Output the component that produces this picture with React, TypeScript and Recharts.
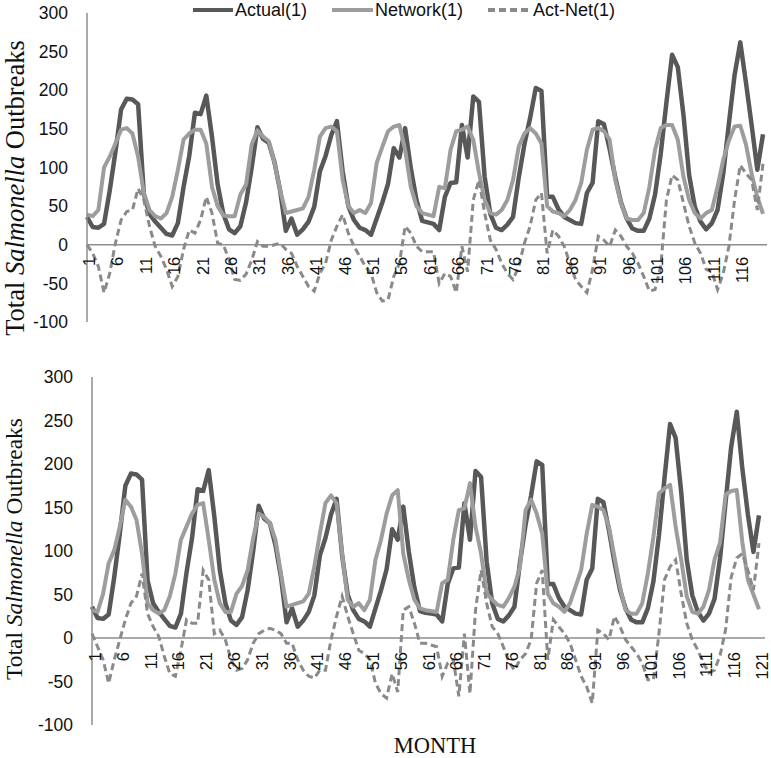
import { LineChart, Line, XAxis, YAxis, ReferenceLine, Legend } from "recharts";

// month categories: upper panel shows 1-120, lower panel 1-121
const months = Array.from({ length: 121 }, (_, i) => String(i + 1));
const yTicks = [-100, -50, 0, 50, 100, 150, 200, 250, 300];

// upper panel: Actual(1), Network(1), Act-Net(1), months 1-120
const actualTop = [
  36, 23, 22, 27, 70, 120, 175, 189, 188, 182,
  66, 40, 30, 22, 14, 12, 28, 75, 115, 171,
  169, 193, 140, 78, 40, 20, 15, 24, 55, 100,
  152, 137, 132, 107, 70, 18, 34, 13, 20, 30,
  49, 95, 115, 142, 160, 95, 50, 32, 22, 19,
  13, 34, 55, 79, 125, 113, 151, 99, 58, 31,
  29, 27, 19, 62, 80, 81, 155, 113, 192, 185,
  88, 40, 22, 19, 26, 36, 87, 130, 164, 203,
  199, 62, 62, 46, 36, 32, 28, 27, 67, 80,
  160, 156, 124, 87, 55, 34, 21, 18, 18, 34,
  65, 118, 184, 246, 230, 168, 90, 49, 30, 20,
  28, 45, 92, 157, 220, 262, 210, 155, 97, 143,
];
const networkTop = [
  39, 37, 45, 100, 114, 131, 149, 151, 144, 114,
  67, 45, 37, 34, 41, 62, 97, 136, 144, 149,
  149, 131, 75, 50, 38, 37, 37, 65, 78, 130,
  148, 140, 134, 106, 71, 41, 43, 45, 47, 62,
  97, 140, 151, 153, 147, 84, 50, 41, 45, 41,
  54, 106, 127, 147, 153, 155, 123, 75, 50, 41,
  39, 37, 75, 73, 123, 147, 149, 153, 136, 93,
  58, 41, 39, 45, 58, 84, 127, 144, 151, 144,
  131, 50, 43, 41, 37, 45, 58, 80, 123, 149,
  151, 147, 136, 84, 54, 34, 32, 32, 41, 75,
  123, 151, 155, 155, 136, 88, 58, 41, 34, 41,
  45, 75, 110, 135, 153, 154, 130, 92, 62, 40,
];
const actNetTop = [
  0, -11, -28, -62, -37, 2, 32, 43, 45, 73,
  58, 24, -2, -15, -32, -54, -41, -6, 19, 15,
  32, 62, 41, 2, 0, -19, -45, -46, -38, -20,
  4, -2, -2, 0, 2, -6, -11, -28, -41, -54,
  -60, -37, -24, 6, 24, 39, 15, -2, -15, -28,
  -37, -62, -73, -71, -41, -24, 24, 15, -2, -9,
  -9, -9, -50, -37, -41, -62, -2, -35, 58, 84,
  41, 6, -6, -24, -37, -45, -28, 2, 24, 58,
  67, -11, 19, 11, -2, -24, -45, -54, -62, -32,
  11, 6, -2, 19, 11, -2, -11, -24, -41, -60,
  -58, -28, 58, 90, 84, 54, 24, 2, -11, -32,
  -35, -58, -37, -2, 58, 103, 92, 84, 45, 105,
];

// lower panel, months 1-121
const actualBottom = [
  36, 23, 22, 27, 70, 120, 175, 189, 188, 182,
  66, 40, 30, 22, 14, 12, 28, 75, 115, 171,
  169, 193, 140, 78, 40, 20, 15, 24, 55, 100,
  152, 137, 132, 107, 70, 18, 34, 13, 20, 30,
  49, 95, 115, 142, 160, 95, 50, 32, 22, 19,
  13, 34, 55, 79, 125, 113, 151, 99, 58, 31,
  29, 28, 27, 19, 62, 80, 81, 155, 113, 192,
  185, 88, 40, 22, 19, 26, 36, 87, 130, 164,
  203, 199, 62, 62, 46, 36, 32, 28, 27, 67,
  80, 160, 156, 124, 87, 55, 34, 21, 18, 18,
  34, 65, 118, 184, 246, 230, 168, 90, 49, 30,
  20, 28, 45, 92, 157, 220, 260, 195, 142, 99,
  141,
];
const networkBottom = [
  32, 30, 51, 86, 101, 128, 159, 151, 136, 97,
  40, 32, 28, 32, 48, 74, 113, 128, 143, 153,
  155, 113, 67, 40, 30, 30, 51, 60, 78, 115,
  143, 139, 132, 113, 74, 36, 38, 40, 42, 51,
  82, 120, 155, 164, 155, 97, 44, 36, 40, 32,
  44, 90, 113, 143, 164, 170, 97, 67, 44, 34,
  32, 31, 30, 63, 67, 113, 147, 149, 178, 128,
  97, 51, 44, 38, 36, 46, 59, 82, 147, 159,
  143, 120, 51, 40, 36, 30, 40, 59, 78, 120,
  153, 151, 147, 128, 93, 59, 32, 28, 28, 40,
  74, 116, 166, 172, 176, 128, 90, 48, 30, 28,
  36, 55, 90, 110, 165, 169, 170, 110, 67, 50,
  33,
];
const actNetBottom = [
  5, -10, -25, -52, -25, -2, 21, 40, 48, 74,
  28, 13, 2, -21, -41, -44, -14, 21, 17, 17,
  78, 67, 5, 9, -2, -25, -37, -35, -25, -6,
  5, 9, 11, 9, 5, -6, -6, -25, -37, -44,
  -46, -37, -37, -2, 25, 48, 25, 5, -14, -18,
  -25, -52, -64, -69, -41, -62, 32, 36, 17, -6,
  -6, -8, -10, -44, -29, -25, -67, 5, -64, 32,
  78, 40, 13, 5, -10, -27, -37, -25, -18, -2,
  63, 78, -25, 21, 13, 5, -6, -25, -44, -56,
  -75, 9, 5, -2, 25, 13, -2, -10, -18, -29,
  -48, -48, 5, 67, 82, 90, 51, 17, -2, -14,
  -29, -40, -37, -20, 10, 70, 92, 97, 78, 55,
  109,
];

const DARK = "#585858";
const LIGHT = "#9d9d9d";
const DASH = "#8a8a8a";
const AXIS = "#8e8e8e";
const SANS = "'Liberation Sans', Arial, sans-serif";
const SERIF = "'Liberation Serif', 'Times New Roman', serif";

const topData = actualTop.map((v, i) => ({
  month: months[i],
  actual: v,
  network: networkTop[i],
  diff: actNetTop[i],
}));

const bottomData = months.map((m, i) => ({
  month: m,
  actual: actualBottom[i],
  network: networkBottom[i],
  diff: actNetBottom[i],
}));

// x labels hang under the zero line, not under the plot bottom
const makeMonthTick = (shift: number, gap: number, dx: number) => (props: any) => {
  const { x, y, payload } = props;
  const tx = x + dx;
  const ty = y - shift + gap;
  return (
    <text
      x={tx}
      y={ty}
      transform={`rotate(-90 ${tx} ${ty})`}
      textAnchor="end"
      fontFamily={SANS}
      fontSize={16.5}
      fill="#111"
    >
      {payload.value}
    </text>
  );
};

const legendItems = [
  { label: "Actual(1)", color: DARK, dash: undefined, x1: 193, x2: 233, tx: 235 },
  { label: "Network(1)", color: LIGHT, dash: undefined, x1: 332, x2: 373, tx: 375 },
  { label: "Act-Net(1)", color: DASH, dash: "7 4", x1: 488, x2: 531, tx: 533 },
];

const renderLegend = () => (
  <svg width={771} height={22}>
    {legendItems.map((it) => (
      <g key={it.label}>
        <line
          x1={it.x1}
          x2={it.x2}
          y1={10}
          y2={10}
          stroke={it.color}
          strokeWidth={4}
          strokeDasharray={it.dash}
        />
        <text x={it.tx} y={16} fontFamily={SANS} fontSize={18} fill="#111">
          {it.label}
        </text>
      </g>
    ))}
  </svg>
);

function Panel({ data, height, margin, yWidth, padRight, tickGap, tickDx, legend }: any) {
  const plotH = height - margin.top - margin.bottom - 1;
  const shift = plotH / 4; // distance from plot bottom (-100) up to zero
  return (
    <LineChart width={771} height={height} data={data} margin={margin}>
      <XAxis
        dataKey="month"
        interval={4}
        height={1}
        tickLine={false}
        axisLine={false}
        tickSize={0}
        tickMargin={0}
        padding={{ left: 0, right: padRight }}
        tick={makeMonthTick(shift, tickGap, tickDx)}
      />
      <YAxis
        width={yWidth}
        domain={[-100, 300]}
        ticks={yTicks}
        interval={0}
        tickLine={false}
        tickSize={0}
        tickMargin={19}
        axisLine={{ stroke: AXIS, strokeWidth: 1.5 }}
        tick={{ fontFamily: SANS, fontSize: 17.5, fill: "#111" }}
      />
      <ReferenceLine y={0} stroke={AXIS} strokeWidth={1.5} />
      {legend && (
        <Legend
          verticalAlign="middle"
          align="center"
          content={renderLegend}
          wrapperStyle={{ top: 0, left: 0, width: 771, height: 22 }}
        />
      )}
      <Line
        dataKey="actual"
        name="Actual(1)"
        stroke={DARK}
        strokeWidth={4.5}
        dot={false}
        strokeLinejoin="round"
        isAnimationActive={false}
      />
      <Line
        dataKey="network"
        name="Network(1)"
        stroke={LIGHT}
        strokeWidth={4}
        dot={false}
        strokeLinejoin="round"
        isAnimationActive={false}
      />
      <Line
        dataKey="diff"
        name="Act-Net(1)"
        stroke={DASH}
        strokeWidth={3}
        strokeDasharray="7 4"
        dot={false}
        isAnimationActive={false}
      />
    </LineChart>
  );
}

export default function App() {
  return (
    <div
      style={{
        position: "absolute",
        left: 0,
        top: 0,
        width: 771,
        height: 758,
        background: "#fff",
      }}
    >
      <div style={{ position: "absolute", left: 0, top: 0 }}>
        <Panel
          data={topData}
          height={335}
          margin={{ top: 13, right: 4, bottom: 12, left: 0 }}
          yWidth={87}
          padRight={4}
          tickGap={12}
          tickDx={8}
          legend
        />
      </div>
      <div style={{ position: "absolute", left: 0, top: 340 }}>
        <Panel
          data={bottomData}
          height={400}
          margin={{ top: 37, right: 6, bottom: 14, left: 0 }}
          yWidth={92}
          padRight={6}
          tickGap={14}
          tickDx={9}
        />
      </div>
      <svg
        width={771}
        height={758}
        style={{ position: "absolute", left: 0, top: 0, pointerEvents: "none" }}
      >
        <text
          transform="translate(24 188) rotate(-90)"
          textAnchor="middle"
          fontFamily={SERIF}
          fontSize={26.5}
          fill="#111"
        >
          Total <tspan fontStyle="italic">Salmonella</tspan> Outbreaks
        </text>
        <text
          transform="translate(21.5 549) rotate(-90)"
          textAnchor="middle"
          fontFamily={SERIF}
          fontSize={23.5}
          fill="#111"
        >
          Total <tspan fontStyle="italic">Salmonella</tspan> Outbreaks
        </text>
        <text
          x={435}
          y={752.5}
          textAnchor="middle"
          fontFamily={SERIF}
          fontSize={22.5}
          fill="#111"
        >
          MONTH
        </text>
      </svg>
    </div>
  );
}
